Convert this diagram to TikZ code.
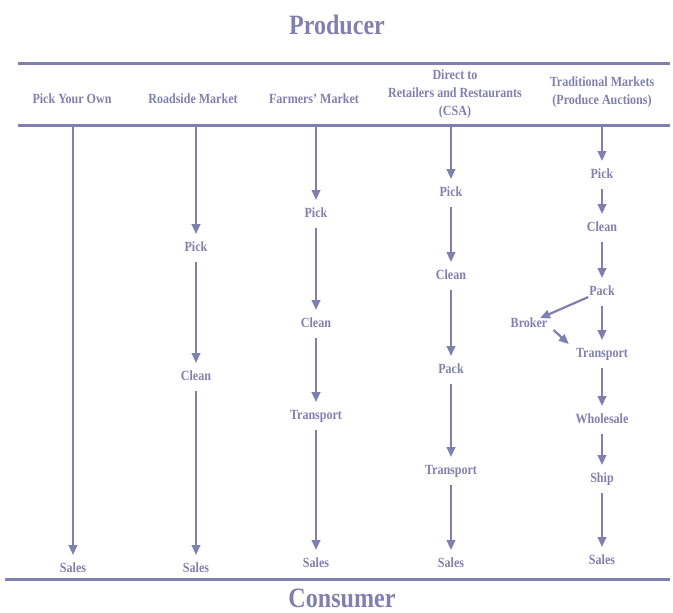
\documentclass[tikz,border=0pt]{standalone}
\usepackage{fontspec}
\setmainfont{Liberation Serif}[FakeStretch=0.86]
\usetikzlibrary{arrows.meta,calc}
\definecolor{pc}{RGB}{128,128,176}
\begin{document}
\begin{tikzpicture}[x=1pt,y=-1pt,
  lbl/.style={text=pc,font=\fontsize{14}{18}\selectfont\bfseries,inner xsep=1pt,inner ysep=0pt,text height=9.5pt,text depth=0pt,align=center},
  hdr/.style={text=pc,font=\fontsize{14}{18}\selectfont\bfseries,inner sep=0pt,align=center},
  ttl/.style={text=pc,font=\fontsize{28}{32}\selectfont\bfseries,inner sep=0pt},
  rule/.style={draw=pc,line width=3pt},
  flow/.style={draw=pc,line width=2.2pt,-{Triangle[width=8.5pt,length=10pt]}},
  fa/.style={flow,shorten <=10pt,shorten >=8pt},
  fs/.style={flow,shorten >=8pt}]
\useasboundingbox (0,0) rectangle (673,613);
% titles and rules
\node[ttl] (producer) at (337,25) {Producer};
\node[ttl] (consumer) at (342,598) {Consumer};
\coordinate (r1a) at (18,63); \coordinate (r1b) at (670,63);
\coordinate (r2a) at (18,125); \coordinate (r2b) at (670,125);
\coordinate (r3a) at (5,579); \coordinate (r3b) at (670,579);
\draw[rule] (r1a) -- (r1b);
\draw[rule] (r2a) -- (r2b);
\draw[rule] (r3a) -- (r3b);
% headers
\node[hdr] (h1) at (72,99) {Pick Your Own};
\node[hdr] (h2) at (193,99) {Roadside Market};
\node[hdr] (h3) at (314,99) {Farmers' Market};
\node[hdr] (h4) at (455,94) {Direct to\\Retailers and Restaurants\\(CSA)};
\node[hdr] (h5) at (602,92) {Traditional Markets\\(Produce Auctions)};
\coordinate (c1) at (73,125);
\coordinate (c2) at (196,125);
\coordinate (c3) at (316,125);
\coordinate (c4) at (451,125);
\coordinate (c5) at (602,125);
% column 1
\node[lbl] (s1) at (73,568) {Sales};
\draw[fs] (c1) -- (s1);
% column 2
\node[lbl] (p2) at (196,247) {Pick};
\node[lbl] (cl2) at (196,376) {Clean};
\node[lbl] (s2) at (196,568) {Sales};
\draw[fs] (c2) -- (p2);
\draw[fa] (p2) -- (cl2);
\draw[fa] (cl2) -- (s2);
% column 3
\node[lbl] (p3) at (316,213) {Pick};
\node[lbl] (cl3) at (316,323) {Clean};
\node[lbl] (t3) at (316,415) {Transport};
\node[lbl] (s3) at (316,563) {Sales};
\draw[fs] (c3) -- (p3);
\draw[fa] (p3) -- (cl3);
\draw[fa] (cl3) -- (t3);
\draw[fa] (t3) -- (s3);
% column 4
\node[lbl] (p4) at (451,192) {Pick};
\node[lbl] (cl4) at (451,275) {Clean};
\node[lbl] (pk4) at (451,369) {Pack};
\node[lbl] (t4) at (451,470) {Transport};
\node[lbl] (s4) at (451,563) {Sales};
\draw[fs] (c4) -- (p4);
\draw[fa] (p4) -- (cl4);
\draw[fa] (cl4) -- (pk4);
\draw[fa] (pk4) -- (t4);
\draw[fa] (t4) -- (s4);
% column 5
\node[lbl] (p5) at (602,174) {Pick};
\node[lbl] (cl5) at (602,227) {Clean};
\node[lbl] (pk5) at (602,291) {Pack};
\node[lbl] (br5) at (529,323) {Broker};
\node[lbl] (t5) at (602,353) {Transport};
\node[lbl] (w5) at (602,419) {Wholesale};
\node[lbl] (sh5) at (602,478) {Ship};
\node[lbl] (s5) at (602,560) {Sales};
\draw[fs] (c5) -- (p5);
\draw[fa] (p5) -- (cl5);
\draw[fa] (cl5) -- (pk5);
\draw[fa] (pk5) -- (t5);
\draw[fa] (t5) -- (w5);
\draw[fa] (w5) -- (sh5);
\draw[fa] (sh5) -- (s5);
\draw[flow,shorten <=15pt,shorten >=12pt] (pk5.center) -- (br5.center);
\draw[flow] ($(br5.south east)+(5,2)$) -- ($(t5.north west)+(-6,-4)$);
\end{tikzpicture}
\end{document}
